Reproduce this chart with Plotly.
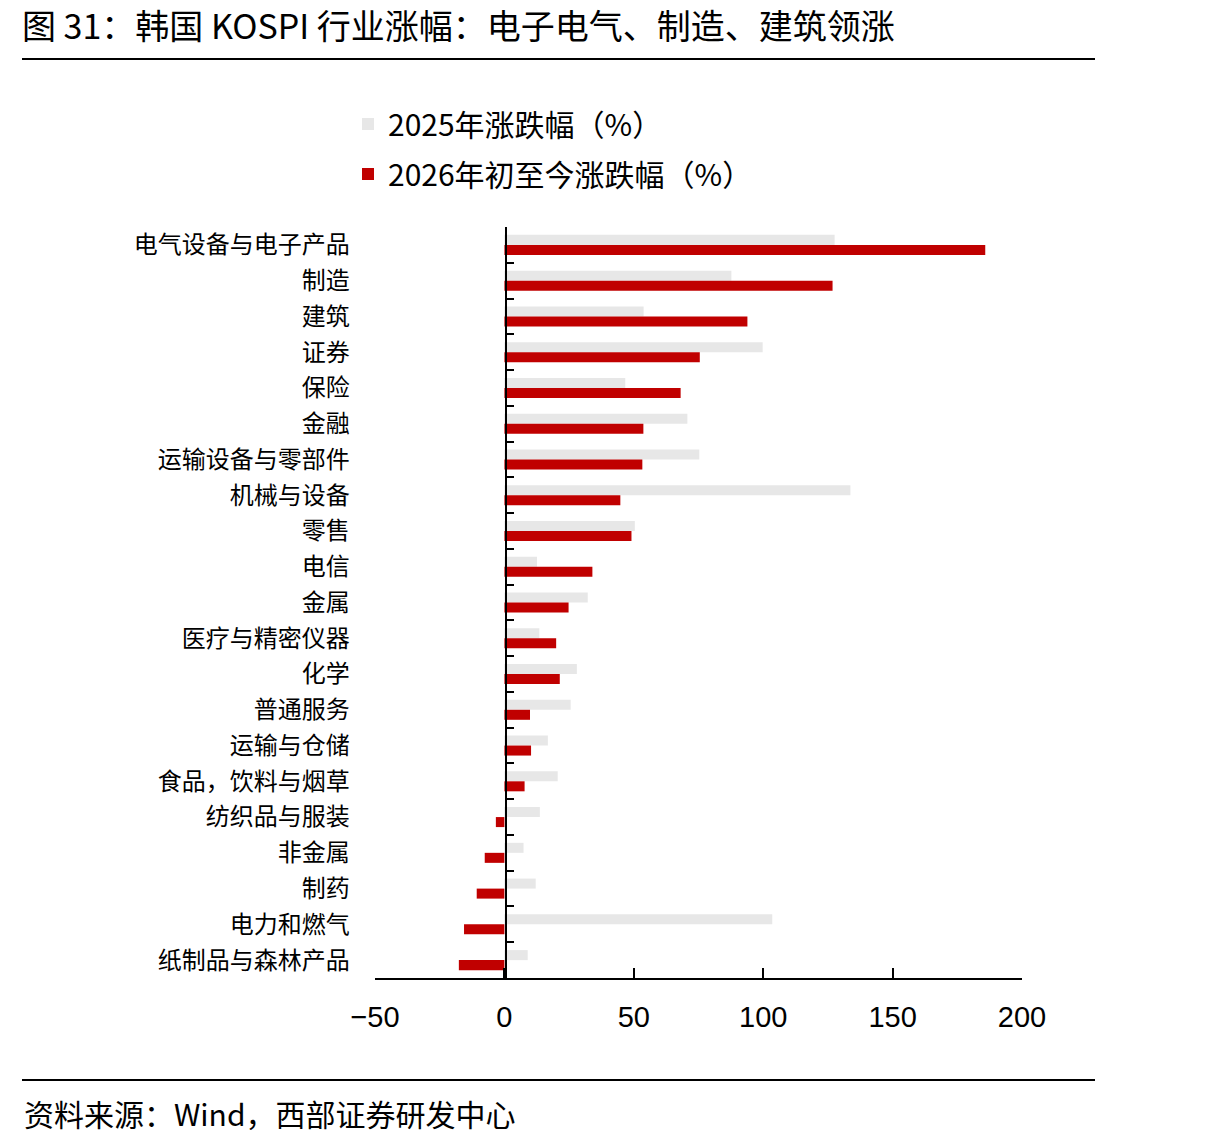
import plotly.graph_objects as go

categories = ["电气设备与电子产品", "制造", "建筑", "证券", "保险", "金融", "运输设备与零部件",
              "机械与设备", "零售", "电信", "金属", "医疗与精密仪器", "化学", "普通服务",
              "运输与仓储", "食品，饮料与烟草", "纺织品与服装", "非金属", "制药", "电力和燃气",
              "纸制品与森林产品"]
chg_2025 = [127.6, 87.7, 53.8, 99.8, 46.7, 70.7, 75.3, 133.7, 50.4, 12.6, 32.2, 13.5, 28.0,
            25.6, 16.8, 20.6, 13.7, 7.4, 12.1, 103.5, 9.0]
chg_2026 = [185.8, 126.8, 93.9, 75.5, 68.1, 53.7, 53.3, 44.8, 49.1, 34.0, 24.8, 20.0, 21.4,
            9.9, 10.3, 7.8, -3.3, -7.6, -10.7, -15.6, -17.6]
series_names = ["2025年涨跌幅（%）", "2026年初至今涨跌幅（%）"]
x_ticks = [-50, 0, 50, 100, 150, 200]

W, H = 1215, 1147
L, R, T, B = 375, 1022, 227, 978


def px(x):
    return (x - L) / (R - L)


def py(y):
    return (B - y) / (B - T)


CJK = "Noto Sans CJK SC"
fig = go.Figure()
fig.add_trace(go.Bar(y=categories, x=chg_2025, orientation="h", name=series_names[0],
                     legendgroup="g1",
                     marker=dict(color="#E7E7E7", line=dict(width=0))))
fig.add_trace(go.Bar(y=categories, x=chg_2026, orientation="h", name=series_names[1],
                     legendgroup="g2",
                     marker=dict(color="#C00000", line=dict(width=0))))

fig.update_layout(
    width=W, height=H,
    margin=dict(l=L, r=W - R, t=T, b=H - B, pad=0),
    paper_bgcolor="white", plot_bgcolor="white",
    barmode="group", bargap=0.44, bargroupgap=0,
    showlegend=True,
    legend=dict(x=px(348), y=py(98), xanchor="left", yanchor="top",
                traceorder="grouped", font=dict(family=CJK, size=30, color="black"),
                tracegroupgap=8, itemwidth=30, bgcolor="rgba(0,0,0,0)"),
    title=dict(text="图 31：韩国 KOSPI 行业涨幅：电子电气、制造、建筑领涨",
               xref="container", yref="container", x=22 / W, y=1 - 27 / H,
               xanchor="left", yanchor="middle",
               font=dict(family=CJK, size=34, color="black")),
    xaxis=dict(range=[-50, 200], tickvals=x_ticks, ticks="inside", ticklen=10,
               tickwidth=2, tickcolor="black", showline=True, linecolor="black",
               linewidth=2, showgrid=False, zeroline=False,
               tickfont=dict(family="Liberation Sans", size=29, color="black"),
               ticklabelstandoff=12),
    yaxis=dict(type="category", autorange="reversed", anchor="free", position=px(505.5),
               showline=True, linecolor="black", linewidth=2, ticks="inside",
               tickson="boundaries", ticklen=7, tickwidth=2, tickcolor="black",
               showgrid=False, zeroline=False, ticklabelstandoff=150,
               tickfont=dict(family=CJK, size=24, color="black")),
    shapes=[
        dict(type="line", xref="paper", yref="paper", x0=px(22), x1=px(1095),
             y0=py(59), y1=py(59), line=dict(color="black", width=2)),
        dict(type="line", xref="paper", yref="paper", x0=px(22), x1=px(1095),
             y0=py(1080), y1=py(1080), line=dict(color="black", width=2)),
    ],
    annotations=[
        dict(text="资料来源：Wind，西部证券研发中心", xref="paper", yref="paper",
             x=px(22), y=py(1113), xanchor="left", yanchor="middle", showarrow=False,
             font=dict(family=CJK, size=30, color="black")),
    ],
)

fig.write_html("out.html")
